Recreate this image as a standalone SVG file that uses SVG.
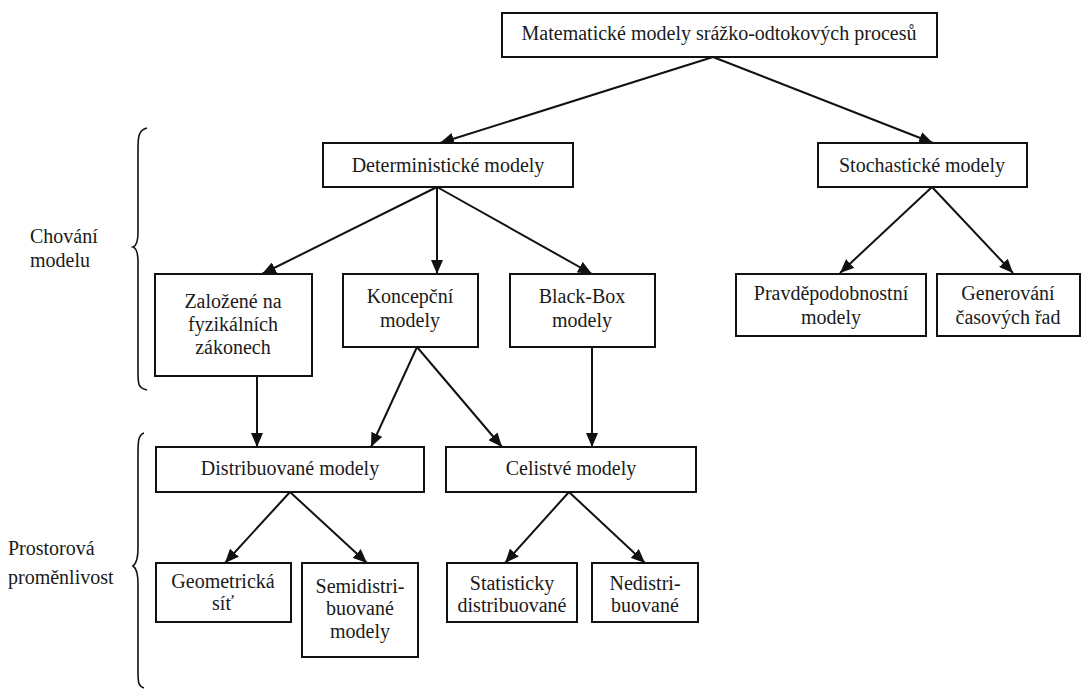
<svg xmlns="http://www.w3.org/2000/svg" width="1082" height="689" viewBox="0 0 1082 689">
<style>
.box{fill:#fff;stroke:#111;stroke-width:2}
text{font-family:'Liberation Serif','DejaVu Serif','Times New Roman',serif;font-size:20px;fill:#1a1a1a}
.t{text-anchor:middle}
.lbl{text-anchor:start}
.c{stroke:#111;stroke-width:2;fill:none;marker-end:url(#ah)}
.brace{stroke:#111;stroke-width:1.6;fill:none}
</style>
<defs>
<marker id="ah" markerUnits="userSpaceOnUse" markerWidth="14" markerHeight="12" viewBox="0 0 14 12" refX="14" refY="6" orient="auto">
<path d="M0,0 L14,6 L0,12 Z" fill="#111"/>
</marker>
</defs>
<rect width="1082" height="689" fill="#fff"/>
<g id="connectors">
<line class="c" x1="713" y1="57" x2="440" y2="143"/>
<line class="c" x1="713" y1="57" x2="933" y2="143"/>
<line class="c" x1="437" y1="187" x2="262" y2="274"/>
<line class="c" x1="437" y1="187" x2="437" y2="274"/>
<line class="c" x1="437" y1="187" x2="592" y2="274"/>
<line class="c" x1="932" y1="187" x2="840" y2="273"/>
<line class="c" x1="932" y1="187" x2="1013" y2="273"/>
<line class="c" x1="257" y1="376" x2="257" y2="447"/>
<line class="c" x1="417" y1="347" x2="371" y2="447"/>
<line class="c" x1="417" y1="347" x2="502" y2="447"/>
<line class="c" x1="592" y1="347" x2="592" y2="447"/>
<line class="c" x1="290" y1="492" x2="225" y2="563"/>
<line class="c" x1="290" y1="492" x2="367" y2="563"/>
<line class="c" x1="569" y1="492" x2="505" y2="563"/>
<line class="c" x1="569" y1="492" x2="645" y2="563"/>
</g>
<g id="n-top"><rect class="box" x="502" y="13" width="435" height="44"/><text class="t" x="719" y="40">Matematické modely srážko-odtokových procesů</text></g>
<g id="n-det"><rect class="box" x="323" y="143" width="250" height="44"/><text class="t" x="448" y="172">Deterministické modely</text></g>
<g id="n-sto"><rect class="box" x="818" y="143" width="209" height="44"/><text class="t" x="922" y="172">Stochastické modely</text></g>
<g id="n-zal"><rect class="box" x="155" y="274" width="157" height="102"/><text class="t" x="233" y="308">Založené na</text><text class="t" x="233" y="331">fyzikálních</text><text class="t" x="233" y="354">zákonech</text></g>
<g id="n-kon"><rect class="box" x="343" y="274" width="135" height="73"/><text class="t" x="410" y="303">Koncepční</text><text class="t" x="410" y="327">modely</text></g>
<g id="n-bb"><rect class="box" x="510" y="274" width="145" height="73"/><text class="t" x="582" y="303">Black-Box</text><text class="t" x="582" y="327">modely</text></g>
<g id="n-pra"><rect class="box" x="736" y="274" width="190" height="62"/><text class="t" x="831" y="300">Pravděpodobnostní</text><text class="t" x="831" y="324">modely</text></g>
<g id="n-gen"><rect class="box" x="937" y="274" width="143" height="62"/><text class="t" x="1008" y="300">Generování</text><text class="t" x="1008" y="324">časových řad</text></g>
<g id="n-dis"><rect class="box" x="156" y="447" width="268" height="45"/><text class="t" x="290" y="475">Distribuované modely</text></g>
<g id="n-cel"><rect class="box" x="446" y="447" width="250" height="45"/><text class="t" x="571" y="475">Celistvé modely</text></g>
<g id="n-geo"><rect class="box" x="156" y="563" width="135" height="59"/><text class="t" x="223" y="588">Geometrická</text><text class="t" x="223" y="610">síť</text></g>
<g id="n-sem"><rect class="box" x="302" y="563" width="116" height="94"/><text class="t" x="360" y="593">Semidistri-</text><text class="t" x="360" y="615">buované</text><text class="t" x="360" y="638">modely</text></g>
<g id="n-sta"><rect class="box" x="447" y="563" width="130" height="59"/><text class="t" x="512" y="590">Statisticky</text><text class="t" x="512" y="612">distribuované</text></g>
<g id="n-ned"><rect class="box" x="592" y="563" width="106" height="59"/><text class="t" x="645" y="590">Nedistri-</text><text class="t" x="645" y="612">buované</text></g>
<g id="brace1">
<path class="brace" d="M147,128 C138,130 138,138 138,150 L138,232 C138,242 136,246 133,247 C136,248 138,252 138,262 L138,372 C138,384 138,388 147,390"/>
<text class="lbl" x="30" y="243">Chování</text><text class="lbl" x="30" y="267">modelu</text>
</g>
<g id="brace2">
<path class="brace" d="M144,433 C138,435 138,442 138,455 L138,548 C138,558 136,564 133,566 C136,568 138,574 138,584 L138,670 C138,682 138,686 144,688"/>
<text class="lbl" x="8" y="555">Prostorová</text><text class="lbl" x="8" y="584">proměnlivost</text>
</g>
</svg>
